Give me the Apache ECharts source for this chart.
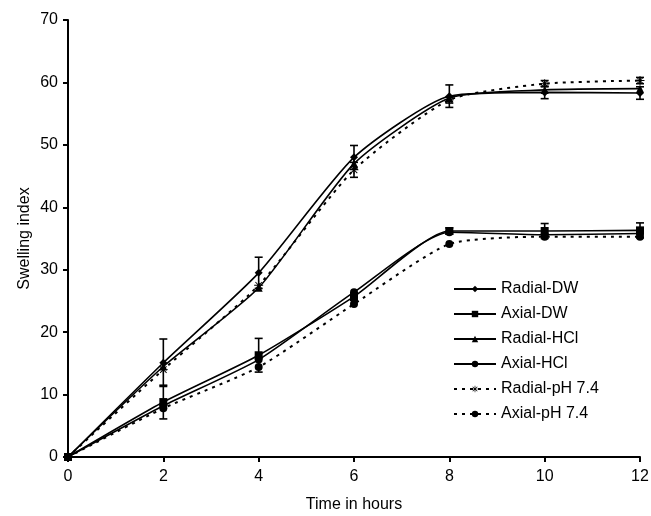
<!DOCTYPE html>
<html><head><meta charset="utf-8">
<script src="https://cdn.jsdelivr.net/npm/echarts@6/dist/echarts.min.js"></script>
<style>html,body{margin:0;padding:0;background:#fff}#c{width:651px;height:516px}</style>
</head><body><div id="c"></div>
<script>
const hours = [0, 2, 4, 6, 8, 10, 12];
const radialDW  = [0, 15.1, 29.5, 48.0, 57.8, 58.4, 58.3];
const axialDW   = [0, 8.8, 16.3, 25.7, 36.2, 36.2, 36.3];
const radialHCl = [0, 14.5, 27.1, 47.0, 57.5, 58.8, 59.0];
const axialHCl  = [0, 8.2, 15.6, 26.4, 36.0, 35.6, 35.8];
const radialPH  = [0, 14.0, 27.5, 46.0, 57.2, 59.8, 60.3];
const axialPH   = [0, 7.8, 14.4, 24.5, 34.1, 35.3, 35.3];
const radialDWErr = [0, 3.8, 2.5, 1.9, 1.8, 1.0, 1.0];
const axialDWErr  = [0, 2.7, 2.7, 0.6, 0.5, 1.2, 1.2];
const radialPHErr = [0, 0, 0, 1.2, 0.5, 0.5, 0.5];

const star = 'path://M4.5,0h1v10h-1z M0,4.5h10v1h-10z M1,1.7l0.7,-0.7l7.3,7.3l-0.7,0.7z M8.3,1l0.7,0.7l-7.3,7.3l-0.7,-0.7z';

function pairs(ys){ return hours.map((h,i)=>[h, ys[i]]); }
function errData(ys, es){ return hours.map((h,i)=>[h, ys[i]-es[i], ys[i]+es[i]]).filter((d,i)=>es[i]>0); }

function lineSeries(name, ys, symbol, size, dashed){
  return {
    name, type:'line', data: pairs(ys), smooth: 0.2,
    symbol, symbolSize: size, showSymbol: true,
    itemStyle:{color:'#000'},
    lineStyle:{color:'#000', width: dashed?2:1.6, type: dashed?[3,5]:'solid'},
    z: 3
  };
}
function errSeries(ys, es){
  return {
    type:'custom', data: errData(ys, es), silent:true, z:4,
    renderItem(params, api){
      const x = api.value(0);
      const lo = api.coord([x, api.value(1)]);
      const hi = api.coord([x, api.value(2)]);
      const w = 4;
      const st = {stroke:'#000', lineWidth:1.6};
      return {type:'group', children:[
        {type:'line', shape:{x1:lo[0], y1:lo[1], x2:hi[0], y2:hi[1]}, style:st},
        {type:'line', shape:{x1:lo[0]-w, y1:lo[1], x2:lo[0]+w, y2:lo[1]}, style:st},
        {type:'line', shape:{x1:hi[0]-w, y1:hi[1], x2:hi[0]+w, y2:hi[1]}, style:st}
      ]};
    }
  };
}

const chart = echarts.init(document.getElementById('c'), null, {renderer:'canvas'});
const font = 'Liberation Sans';
chart.setOption({
  animation:false,
  backgroundColor:'#fff',
  grid:{left:68, right:11, top:20, bottom:59, containLabel:false, outerBoundsMode:'none'},
  xAxis:{
    type:'value', min:0, max:12, interval:2,
    name:'Time in hours', nameLocation:'middle', nameGap:40, nameMoveOverlap:false,
    nameTextStyle:{fontFamily:font, fontSize:16, color:'#000'},
    axisLine:{lineStyle:{color:'#000', width:2}},
    axisTick:{show:true, length:5, lineStyle:{color:'#000', width:2}},
    axisLabel:{fontFamily:font, fontSize:16, color:'#000', margin:12},
    splitLine:{show:false}
  },
  yAxis:{
    type:'value', min:0, max:70, interval:10,
    name:'Swelling index', nameLocation:'middle', nameGap:35, nameMoveOverlap:false,
    nameTextStyle:{fontFamily:font, fontSize:16, color:'#000'},
    axisLine:{show:true, lineStyle:{color:'#000', width:2}},
    axisTick:{show:true, length:5, lineStyle:{color:'#000', width:2}},
    axisLabel:{fontFamily:font, fontSize:16, color:'#000', margin:10},
    splitLine:{show:false}
  },
  legend:{
    orient:'vertical', left:448, top:276, itemWidth:42, itemHeight:8, itemGap:9,
    textStyle:{fontFamily:font, fontSize:16, color:'#000', lineHeight:16},
    data:['Radial-DW','Axial-DW','Radial-HCl','Axial-HCl','Radial-pH 7.4','Axial-pH 7.4']
  },
  series:[
    lineSeries('Radial-DW', radialDW, 'diamond', 8, false),
    lineSeries('Axial-DW', axialDW, 'rect', 8, false),
    lineSeries('Radial-HCl', radialHCl, 'triangle', 8, false),
    lineSeries('Axial-HCl', axialHCl, 'circle', 8, false),
    lineSeries('Radial-pH 7.4', radialPH, star, 9, true),
    lineSeries('Axial-pH 7.4', axialPH, 'circle', 8, true),
    errSeries(radialDW, radialDWErr),
    errSeries(axialDW, axialDWErr),
    errSeries(radialPH, radialPHErr)
  ]
});
</script></body></html>
